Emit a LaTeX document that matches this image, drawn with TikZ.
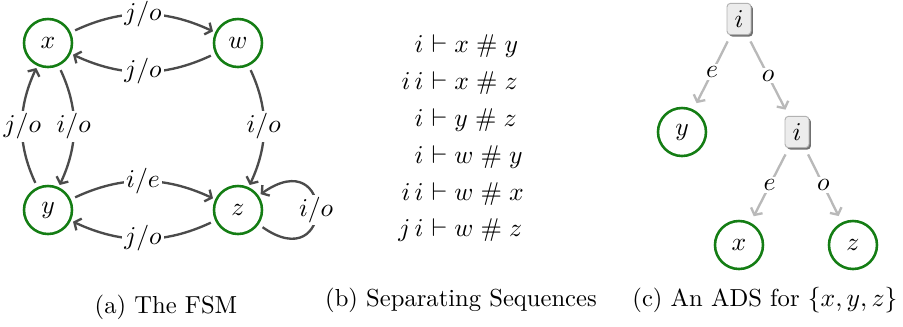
\documentclass[tikz,border=0pt]{standalone}
\usepackage{amsmath, amssymb}
\usepackage{xcolor}
\usepackage{tikz}
\usetikzlibrary{arrows.meta, positioning, shadows}
\definecolor{stateGreen}{RGB}{20, 125, 20}
\definecolor{edgeGray}{RGB}{75, 75, 75}
\definecolor{adsGray}{RGB}{185, 185, 185}
\definecolor{boxFill}{RGB}{236, 236, 236}
\tikzset{
  fsmstate/.style={
    circle,
    draw=stateGreen, line width=1.1pt,
    minimum size=0.72cm, inner sep=0pt
  },
  adsbox/.style={
    rectangle, rounded corners=1.5pt,
    draw=gray!60, fill=boxFill,
    minimum width=0.36cm, minimum height=0.47cm,
    inner sep=0pt,
    drop shadow={shadow xshift=0.8pt, shadow yshift=-0.8pt, fill=black!70, opacity=0.8}
  },
  lbl/.style={
    fill=white, text=black, inner sep=1pt
  }
}

\begin{document}
\begin{tikzpicture}[
  x=0.015cm, y=-0.015cm,
  every node/.append style={font=\fontsize{10.5}{12.6}\selectfont},
  trans/.style={-{Straight Barb[length=2.2pt,width=5.5pt]}, line width=1pt,
                color=edgeGray, shorten <=2pt, shorten >=1pt},
  adsarr/.style={-{Straight Barb[length=2.2pt,width=5.5pt]}, line width=1pt,
                 color=adsGray, shorten <=3pt, shorten >=3pt},
  caption/.style={anchor=base}
]
  \useasboundingbox (0,0) rectangle (903,326);

  % x/y positions of the FSM states
  \def\xl{48}  \def\xr{238}
  \def\ytop{43}  \def\ybot{210}

  % (a) the FSM
  \node[fsmstate] (x) at (\xl, \ytop) {$x$};
  \node[fsmstate] (w) at (\xr, \ytop) {$w$};
  \node[fsmstate] (y) at (\xl, \ybot) {$y$};
  \node[fsmstate] (z) at (\xr, \ybot) {$z$};

  \draw[trans] (x) to[bend left=25] node[lbl] {$j/o$} (w);
  \draw[trans] (w) to[bend left=25] node[lbl] {$j/o$} (x);
  \draw[trans] (x) to[bend left=25] node[lbl] {$i/o$} (y);
  \draw[trans] (y) to[bend left=25] node[lbl] {$j/o$} (x);
  \draw[trans] (w) to[bend left=25] node[lbl] {$i/o$} (z);
  \draw[trans] (y) to[bend left=25] node[lbl] {$i/e$} (z);
  \draw[trans] (z) to[bend left=25] node[lbl] {$j/o$} (y);
  \draw[trans] (z) to[out=-35, in=35, min distance=1.4cm]
    node[lbl] {$i/o$} (z);

  % (b) separating sequences, aligned at the turnstile
  \foreach \lhs/\rhs [count=\k] in {
      i/x \mathrel{\#} y, i\,i/x \mathrel{\#} z, i/y \mathrel{\#} z,
      i/w \mathrel{\#} y, i\,i/w \mathrel{\#} x, j\,i/w \mathrel{\#} z} {
    \node[anchor=base east, inner sep=0pt] (sl\k) at (424, 16+36.8*\k) {$\lhs$};
    \node[anchor=base west, inner sep=0pt] (sr\k) at (424, 16+36.8*\k) {${}\vdash \rhs$};
  }

  % (c) the adaptive distinguishing sequence
  \node[adsbox] (r1) at (739, 19) {$i$};
  \node[adsbox] (r2) at (797, 132) {$i$};
  \node[fsmstate] (ay) at (682, 132) {$y$};
  \node[fsmstate] (ax) at (739, 245) {$x$};
  \node[fsmstate] (az) at (853, 245) {$z$};

  \draw[adsarr] (r1) -- node[lbl] {$e$} (ay);
  \draw[adsarr] (r1) -- node[lbl] {$o$} (r2);
  \draw[adsarr] (r2) -- node[lbl] {$e$} (ax);
  \draw[adsarr] (r2) -- node[lbl] {$o$} (az);

  % captions
  \node[caption] (capa) at (166, 313) {(a) The FSM};
  \node[caption] (capb) at (461, 306) {(b) Separating Sequences};
  \node[caption] (capc) at (765, 306) {(c) An ADS for $\{x,y,z\}$};

\end{tikzpicture}
\end{document}
